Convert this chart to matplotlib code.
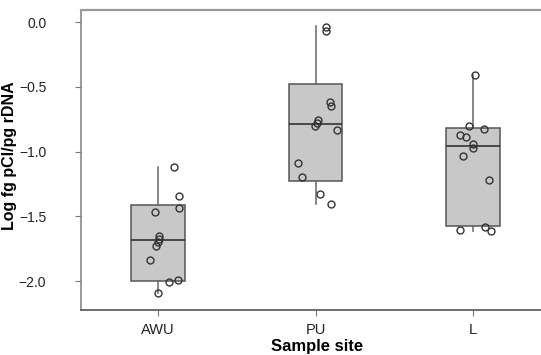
import matplotlib
matplotlib.use("Agg")
import matplotlib.pyplot as plt

plt.rcParams['font.family'] = ['Liberation Sans', 'DejaVu Sans']

# --- data ---
sites = ["AWU", "PU", "L"]
whis_hi = [-1.116, -0.030, -0.409]
q3 = [-1.412, -0.481, -0.820]
median = [-1.685, -0.790, -0.954]
q1 = [-1.998, -1.227, -1.574]
whis_lo = [-2.089, -1.407, -1.610]

awu_vals = [-1.116, -1.343, -1.438, -1.464, -1.651, -1.674, -1.695, -1.726, -1.836, -2.004, -1.993, -2.089]
awu_jit = [0.098, 0.129, 0.129, -0.019, 0.008, 0.002, -0.004, -0.013, -0.051, 0.066, 0.123, -0.004]
pu_vals = [-0.036, -0.067, -0.615, -0.646, -0.756, -0.782, -0.800, -0.833, -1.086, -1.198, -1.330, -1.407]
pu_jit = [0.064, 0.068, 0.091, 0.100, 0.017, 0.006, -0.004, 0.132, -0.113, -0.085, 0.027, 0.096]
l_vals = [-0.409, -0.802, -0.826, -0.872, -0.885, -0.940, -0.975, -1.031, -1.219, -1.579, -1.605, -1.610]
l_jit = [0.013, -0.030, 0.066, -0.083, -0.045, 0.000, 0.000, -0.066, 0.098, 0.076, -0.087, 0.115]

yticks = [0.0, -0.5, -1.0, -1.5, -2.0]
ytick_labels = ["0.0", "\u22120.5", "\u22121.0", "\u22121.5", "\u22122.0"]

fig = plt.figure(figsize=(5.41, 3.55), dpi=100)
ax = fig.add_axes([81/541, 45/355, 471/541, 300/355])

stats = []
for i in range(3):
    stats.append(dict(med=median[i], q1=q1[i], q3=q3[i], whislo=whis_lo[i], whishi=whis_hi[i], fliers=[], label=sites[i]))

ax.bxp(stats, positions=[1, 2, 3], widths=0.34, patch_artist=True, showcaps=False,
       boxprops=dict(facecolor="#c8c8c8", edgecolor="#555555", linewidth=1.1),
       medianprops=dict(color="#333333", linewidth=1.2),
       whiskerprops=dict(color="#666666", linewidth=1.1))

for pos, vals, jit in [(1, awu_vals, awu_jit), (2, pu_vals, pu_jit), (3, l_vals, l_jit)]:
    xs = [pos + j for j in jit]
    ax.plot(xs, vals, linestyle="none", marker="o", markersize=5, markerfacecolor="none",
            markeredgecolor="#333333", markeredgewidth=1.0, zorder=5)

ax.set_xlim(0.51, 3.5)
ax.set_ylim(-2.222, 0.093)
ax.set_yticks(yticks)
ax.set_yticklabels(ytick_labels)
ax.set_xticks([1, 2, 3])
ax.set_xticklabels(sites)

ax.tick_params(axis='both', labelcolor="#222222", color="#777777",
               length=4, width=0.8, direction='out')
ax.tick_params(axis='x', labelsize=10.5, pad=5)
ax.tick_params(axis='y', labelsize=10, pad=21)

ax.set_ylabel("Log fg pCl/pg rDNA", fontsize=11.5, fontweight="bold")
ax.yaxis.set_label_coords(-0.136, 0.515)
ax.set_xlabel("Sample site", fontsize=12, fontweight="bold")
ax.xaxis.set_label_coords(0.501, -0.098)

ax.spines['top'].set_color("#999999")
ax.spines['top'].set_linewidth(1.6)
ax.spines['left'].set_color("#888888")
ax.spines['left'].set_linewidth(1.2)
ax.spines['bottom'].set_color("#555555")
ax.spines['bottom'].set_linewidth(1.2)
ax.spines['right'].set_visible(False)

fig.savefig("out.png", dpi=100)
